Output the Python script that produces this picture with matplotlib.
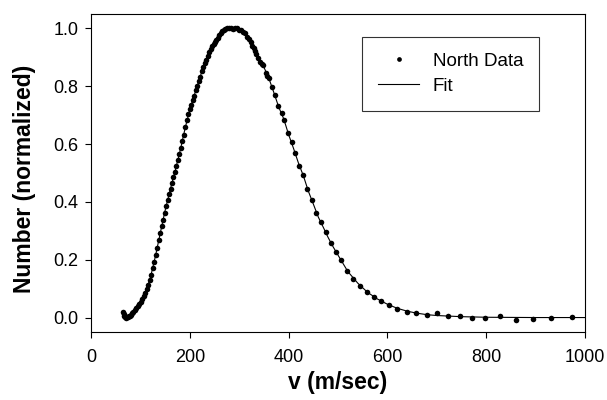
import matplotlib
matplotlib.use("Agg")
import matplotlib.pyplot as plt

plt.rcParams['font.family'] = ['Liberation Sans', 'DejaVu Sans']

# measured points (North Data)
v_data = [65, 66, 67, 68, 70, 72, 74, 76, 78, 80, 83, 86, 89, 92, 95, 98, 101, 104, 107, 110,
          113, 116, 119, 122, 125, 128, 131, 134, 137, 140, 143, 146, 149, 152, 155, 158, 161, 164,
          167, 170, 173, 176, 179, 182, 185, 188, 191, 194, 197, 200, 203, 206, 209, 212, 215, 218,
          221, 224, 227, 230, 233, 236, 239, 242, 245, 248, 251, 254, 257, 260, 263, 266, 269, 272,
          275, 279, 283, 287, 291, 295, 299, 303, 308, 312, 315, 319, 323, 326, 329, 332, 335, 339,
          343, 346, 349, 354, 357, 361, 366, 372, 379, 386, 391, 399, 406, 413, 422, 430, 438, 447,
          455, 465, 475, 485, 496, 507, 519, 531, 545, 558, 573, 588, 604, 620, 639, 657, 680, 700,
          722, 746, 771, 798, 828, 861, 895, 932, 973]
n_data = [0.020, 0.012, 0.006, 0.002, 0.000, 0.001, 0.003, 0.005, 0.007, 0.010, 0.014, 0.019, 0.025,
          0.032, 0.040, 0.046, 0.054, 0.064, 0.075, 0.086, 0.099, 0.113, 0.129, 0.148, 0.170, 0.193,
          0.217, 0.242, 0.267, 0.291, 0.315, 0.339, 0.363, 0.386, 0.407, 0.427, 0.446, 0.465, 0.485,
          0.505, 0.525, 0.545, 0.566, 0.588, 0.610, 0.633, 0.660, 0.683, 0.703, 0.720, 0.736, 0.751,
          0.768, 0.786, 0.802, 0.817, 0.833, 0.852, 0.867, 0.880, 0.892, 0.905, 0.917, 0.928, 0.938,
          0.947, 0.954, 0.961, 0.968, 0.976, 0.983, 0.990, 0.995, 0.998, 1.000, 1.002, 1.001, 0.999,
          1.001, 1.000, 0.996, 0.994, 0.988, 0.983, 0.971, 0.962, 0.954, 0.941, 0.931, 0.922, 0.913,
          0.898, 0.884, 0.878, 0.873, 0.846, 0.837, 0.827, 0.798, 0.769, 0.731, 0.708, 0.683, 0.637,
          0.608, 0.568, 0.525, 0.492, 0.445, 0.408, 0.362, 0.331, 0.296, 0.258, 0.227, 0.198, 0.160,
          0.135, 0.109, 0.089, 0.071, 0.057, 0.043, 0.031, 0.020, 0.014, 0.010, 0.014, 0.005, 0.005,
          -0.003, -0.003, 0.007, -0.007, -0.006, -0.001, 0.002]

# fitted curve
v_fit = [65, 70, 80, 90, 100, 110, 120, 130, 140, 150, 160, 170, 180, 190, 200, 210, 220, 230, 240,
         250, 260, 270, 280, 290, 300, 310, 320, 330, 340, 350, 360, 370, 380, 390, 400, 410, 420,
         430, 440, 450, 460, 470, 480, 490, 500, 520, 540, 560, 580, 600, 620, 640, 660, 680, 700,
         750, 800, 900, 1000]
n_fit = [0.004, 0.004, 0.010, 0.026, 0.052, 0.088, 0.136, 0.209, 0.290, 0.370, 0.440, 0.505, 0.574,
         0.651, 0.720, 0.774, 0.828, 0.879, 0.922, 0.953, 0.976, 0.994, 1.001, 1.000, 0.995, 0.984,
         0.961, 0.929, 0.895, 0.866, 0.828, 0.779, 0.728, 0.688, 0.633, 0.585, 0.534, 0.490, 0.437,
         0.393, 0.348, 0.313, 0.277, 0.245, 0.216, 0.159, 0.119, 0.087, 0.064, 0.046, 0.032, 0.022,
         0.015, 0.010, 0.007, 0.003, 0.001, 0.000, 0.000]

fig = plt.figure(figsize=(6.07, 4.0), dpi=100)
ax = fig.add_axes([91 / 607, 68 / 400, 494 / 607, 318 / 400])

ax.plot(v_data, n_data, 'o', color='black', markersize=4.0, markeredgewidth=0, label='North Data')
ax.plot(v_fit, n_fit, '-', color='black', linewidth=0.8, label='Fit')

ax.set_xlim(0, 1000)
ax.set_ylim(-0.05, 1.05)
ax.set_xticks([0, 200, 400, 600, 800, 1000])
ax.set_yticks([0.0, 0.2, 0.4, 0.6, 0.8, 1.0])
ax.set_yticklabels(['0.0', '0.2', '0.4', '0.6', '0.8', '1.0'])

for s in ax.spines.values():
    s.set_linewidth(0.8)
ax.tick_params(direction='out', length=4, width=0.8, labelsize=13)
ax.tick_params(axis='x', pad=8.5)
ax.tick_params(axis='y', pad=5)

ax.set_xlabel('v (m/sec)', fontsize=16.5, fontweight='bold', va='center')
ax.set_ylabel('Number (normalized)', fontsize=16.5, fontweight='bold', va='center')
ax.xaxis.set_label_coords(0.5, -0.160)
ax.yaxis.set_label_coords(-0.134, 0.48)

leg = ax.legend(loc='upper left', bbox_to_anchor=(0.549, 0.928), borderaxespad=0,
                fontsize=13.5, frameon=True, fancybox=False, edgecolor='black',
                borderpad=0.85, labelspacing=0.42, handlelength=2.2, handletextpad=0.7,
                markerscale=0.85)
leg.get_frame().set_linewidth(0.8)

fig.savefig('out.png', dpi=100)
